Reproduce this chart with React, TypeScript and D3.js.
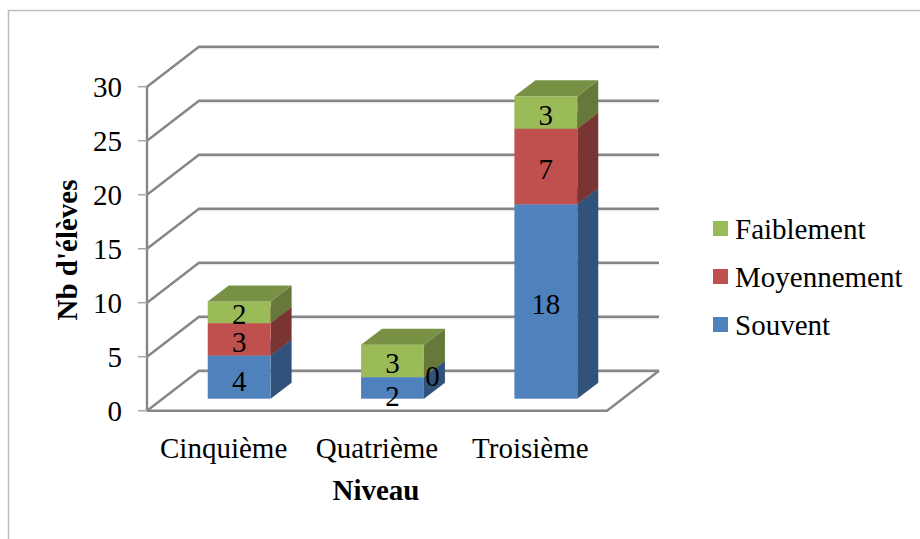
import * as d3 from "d3";

const categories = ["Cinquième", "Quatrième", "Troisième"];
const seriesNames = ["Souvent", "Moyennement", "Faiblement"];
const souvent = [4, 2, 18];
const moyennement = [3, 0, 7];
const faiblement = [2, 3, 3];
const yTicks = [0, 5, 10, 15, 20, 25, 30];

const width = 920;
const height = 539;
const depth = { dx: 52, dy: -40 };
const barDepth = { dx: 21, dy: -16 };
const barShift = { dx: 15.5, dy: -12 };
const fontFamily = "'Liberation Serif', 'Times New Roman', serif";
const gridColor = "#868686";

const front = ["#4f81bd", "#c0504d", "#9bbb59"];
const side = ["#31527a", "#7a3431", "#66793a"];
const topFace = ["#3e6695", "#984340", "#789145"];

// hand-placed labels in the original, dx / dy from the segment centre
const labelNudge: Record<string, [number, number]> = {
  "0-0": [0, 1],
  "0-2": [0, -1],
  "1-0": [0, 6],
  "1-1": [40, -4],
};

const x = d3
  .scaleBand()
  .domain(categories)
  .range([147, 607])
  .paddingInner(0.59)
  .paddingOuter(0.295);
const y = d3.scaleLinear().domain([0, 30]).range([410.7, 86.7]);

const stacked = d3
  .stack<number>()
  .keys([0, 1, 2])
  .value((i, k) => [souvent, moyennement, faiblement][k as number][i])(categories.map((_, i) => i));

const poly = (pts: [number, number][]) => pts.map((p) => p.join(",")).join(" ");

export default function App() {
  return (
    <svg
      width={width}
      height={height}
      style={{ position: "absolute", left: 0, top: 0, background: "#fff" }}
      fontFamily={fontFamily}
    >
      <line x1={8.5} x2={8.5} y1={10} y2={height} stroke="#bdbdbd" strokeWidth={1.5} />
      <line x1={8} x2={width} y1={10.5} y2={10.5} stroke="#bdbdbd" strokeWidth={1.5} />

      {/* walls and floor */}
      <g fill="none" stroke="#e2e2e2" strokeWidth={1}>
        {yTicks.map((t) => (
          <line key={t} x1={147 + depth.dx} x2={607 + depth.dx} y1={y(t) + depth.dy + 2} y2={y(t) + depth.dy + 2} />
        ))}
      </g>
      <g fill="none" stroke={gridColor} strokeWidth={2.4}>
        {yTicks.map((t) => (
          <polyline
            key={t}
            points={poly([
              [147, y(t)],
              [147 + depth.dx, y(t) + depth.dy],
              [607 + depth.dx, y(t) + depth.dy],
            ])}
          />
        ))}
        <polyline
          points={poly([
            [147, y(0)],
            [607, y(0)],
            [607 + depth.dx, y(0) + depth.dy],
          ])}
        />
        <line x1={147} x2={147} y1={y(30)} y2={y(0)} />
        {yTicks.map((t) => (
          <line key={t} x1={138} x2={147} y1={y(t)} y2={y(t)} stroke="#a6a6a6" strokeWidth={1.5} />
        ))}
      </g>

      {/* bars */}
      {categories.map((c, i) => {
        const x0 = x(c)! + barShift.dx;
        const x1 = x0 + x.bandwidth();
        return (
          <g key={c}>
            {stacked.map((s, k) => {
              const yb = y(s[i][0]) + barShift.dy;
              const yt = y(s[i][1]) + barShift.dy;
              if (s[i][1] === s[i][0]) return null;
              return (
                <g key={k}>
                  <polygon
                    fill={side[k]}
                    points={poly([
                      [x1, yb],
                      [x1 + barDepth.dx, yb + barDepth.dy],
                      [x1 + barDepth.dx, yt + barDepth.dy],
                      [x1, yt],
                    ])}
                  />
                  <rect x={x0} y={yt} width={x1 - x0} height={yb - yt} fill={front[k]} />
                  <polygon
                    fill={topFace[k]}
                    points={poly([
                      [x0, yt],
                      [x0 + barDepth.dx, yt + barDepth.dy],
                      [x1 + barDepth.dx, yt + barDepth.dy],
                      [x1, yt],
                    ])}
                  />
                </g>
              );
            })}
          </g>
        );
      })}

      {/* data labels */}
      <g fontSize={29} textAnchor="middle" fill="#000">
        {categories.map((c, i) =>
          stacked.map((s, k) => {
            const [ndx, ndy] = labelNudge[`${i}-${k}`] ?? [0, 0];
            const cx = x(c)! + barShift.dx + x.bandwidth() / 2 + ndx;
            const cy = (y(s[i][0]) + y(s[i][1])) / 2 + barShift.dy + 3 + ndy;
            return (
              <text key={k} x={cx} y={cy} dy="0.33em">
                {s[i][1] - s[i][0]}
              </text>
            );
          }),
        )}
      </g>

      {/* axes text */}
      <g fontSize={29} textAnchor="end" fill="#000">
        {yTicks.map((t) => (
          <text key={t} x={122} y={y(t) + 1} dy="0.33em">
            {t}
          </text>
        ))}
      </g>
      <g fontSize={29} textAnchor="middle" fill="#000">
        {categories.map((c) => (
          <text key={c} x={x(c)! + x.bandwidth() / 2} y={458}>
            {c}
          </text>
        ))}
      </g>
      <text x={376} y={500} textAnchor="middle" fontSize={29} fontWeight="bold">
        Niveau
      </text>
      <text
        transform="translate(77,250) rotate(-90)"
        textAnchor="middle"
        fontSize={29}
        fontWeight="bold"
      >
        Nb d'élèves
      </text>

      {/* legend, top entry is the last series */}
      {[...seriesNames].reverse().map((n, j) => {
        const k = seriesNames.length - 1 - j;
        const ly = 221 + j * 48;
        return (
          <g key={n}>
            <rect x={713} y={ly} width={15} height={15} fill={front[k]} />
            <text x={735} y={ly + 18} fontSize={29}>
              {n}
            </text>
          </g>
        );
      })}
    </svg>
  );
}
